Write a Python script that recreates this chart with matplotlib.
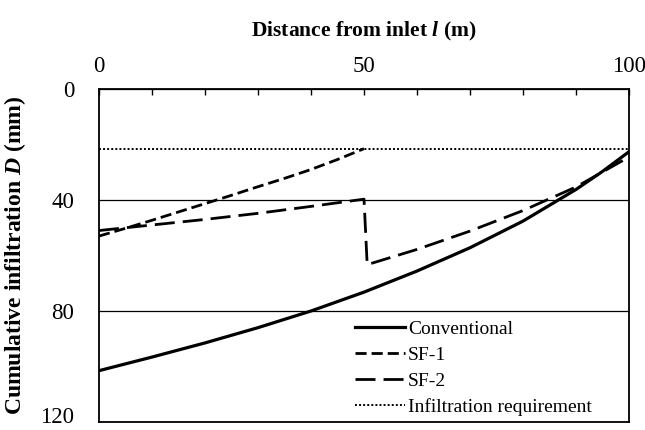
import matplotlib
matplotlib.use('Agg')
import matplotlib.pyplot as plt
import matplotlib.transforms as mtransforms

# values (distance in m, infiltration depth in mm)
l_conv = [0, 10, 20, 30, 40, 50, 60, 70, 80, 90, 95, 100]
d_conv = [101.5, 96.6, 91.5, 86.0, 80.0, 73.2, 65.6, 57.2, 47.6, 36.2, 29.7, 22.6]

l_sf1 = [0, 5, 10, 15, 20, 25, 30, 35, 40, 45, 50]
d_sf1 = [53, 50.2, 47.3, 44.3, 41.3, 38.3, 35.2, 32.2, 29.0, 25.4, 21.5]

l_sf2 = [0, 10, 20, 30, 40, 50, 50.6, 60, 70, 80, 90, 100]
d_sf2 = [51, 49, 47, 44.8, 42.3, 39.7, 63.3, 57.8, 51.2, 43.8, 35.3, 24.5]

l_req = [0, 100]
d_req = [21.5, 21.5]

plt.rcParams['font.family'] = 'Liberation Serif'
plt.rcParams['font.size'] = 14
plt.rcParams['mathtext.fontset'] = 'custom'
plt.rcParams['mathtext.rm'] = 'Liberation Serif'
plt.rcParams['mathtext.it'] = 'Liberation Serif:italic'
plt.rcParams['mathtext.bf'] = 'Liberation Serif:bold'
plt.rcParams['mathtext.bfit'] = 'Liberation Serif:italic:bold'

fig = plt.figure(figsize=(6.45, 4.3), dpi=100)
ax = fig.add_axes([0.1535, 0.0186, 0.8217, 0.7744])

ax.plot(l_conv, d_conv, '-', color='black', linewidth=2.3, label='Conventional')
ax.plot(l_sf1, d_sf1, color='black', linewidth=2.0, dashes=(4, 1.8), label='SF-1')
ax.plot(l_sf2, d_sf2, color='black', linewidth=2.0, dashes=(7.2, 2.9), label='SF-2')
ax.plot(l_req, d_req, color='black', linewidth=1.4, dashes=(1, 1.1), label='Infiltration requirement')

ax.set_xlim(0, 100)
ax.set_ylim(120, 0)
ax.xaxis.tick_top()
ax.xaxis.set_label_position('top')
ax.set_xticks([0, 50, 100])
ax.set_xticks(range(0, 101, 10), minor=True)
ax.tick_params(axis='x', which='both', direction='in', length=4, width=1, pad=9, labelsize=16.5)
ax.set_yticks([0, 40, 80, 120])
ax.tick_params(axis='y', length=0, pad=18, labelsize=16.5)
ax.grid(axis='y', color='black', linewidth=0.9)
for s in ax.spines.values():
    s.set_linewidth(1.3)

# nudge the bottom tick label up so it stays inside the figure
last = ax.get_yticklabels()[-1]
last.set_transform(last.get_transform() + mtransforms.ScaledTranslation(0, 5 / 72, fig.dpi_scale_trans))

ax.set_xlabel(r'Distance from inlet $\mathbfit{l}$ (m)', fontweight='bold', fontsize=15.5, labelpad=14)
ax.set_ylabel(r'Cumulative infiltration $\mathbfit{D}$ (mm)', fontweight='bold', fontsize=17, labelpad=9)

ax.legend(loc='lower right', bbox_to_anchor=(0.945, -0.004), frameon=False, handlelength=2.6,
          handletextpad=0.15, labelspacing=0.42, borderaxespad=0, fontsize=14)

fig.savefig('out.png', dpi=100)
